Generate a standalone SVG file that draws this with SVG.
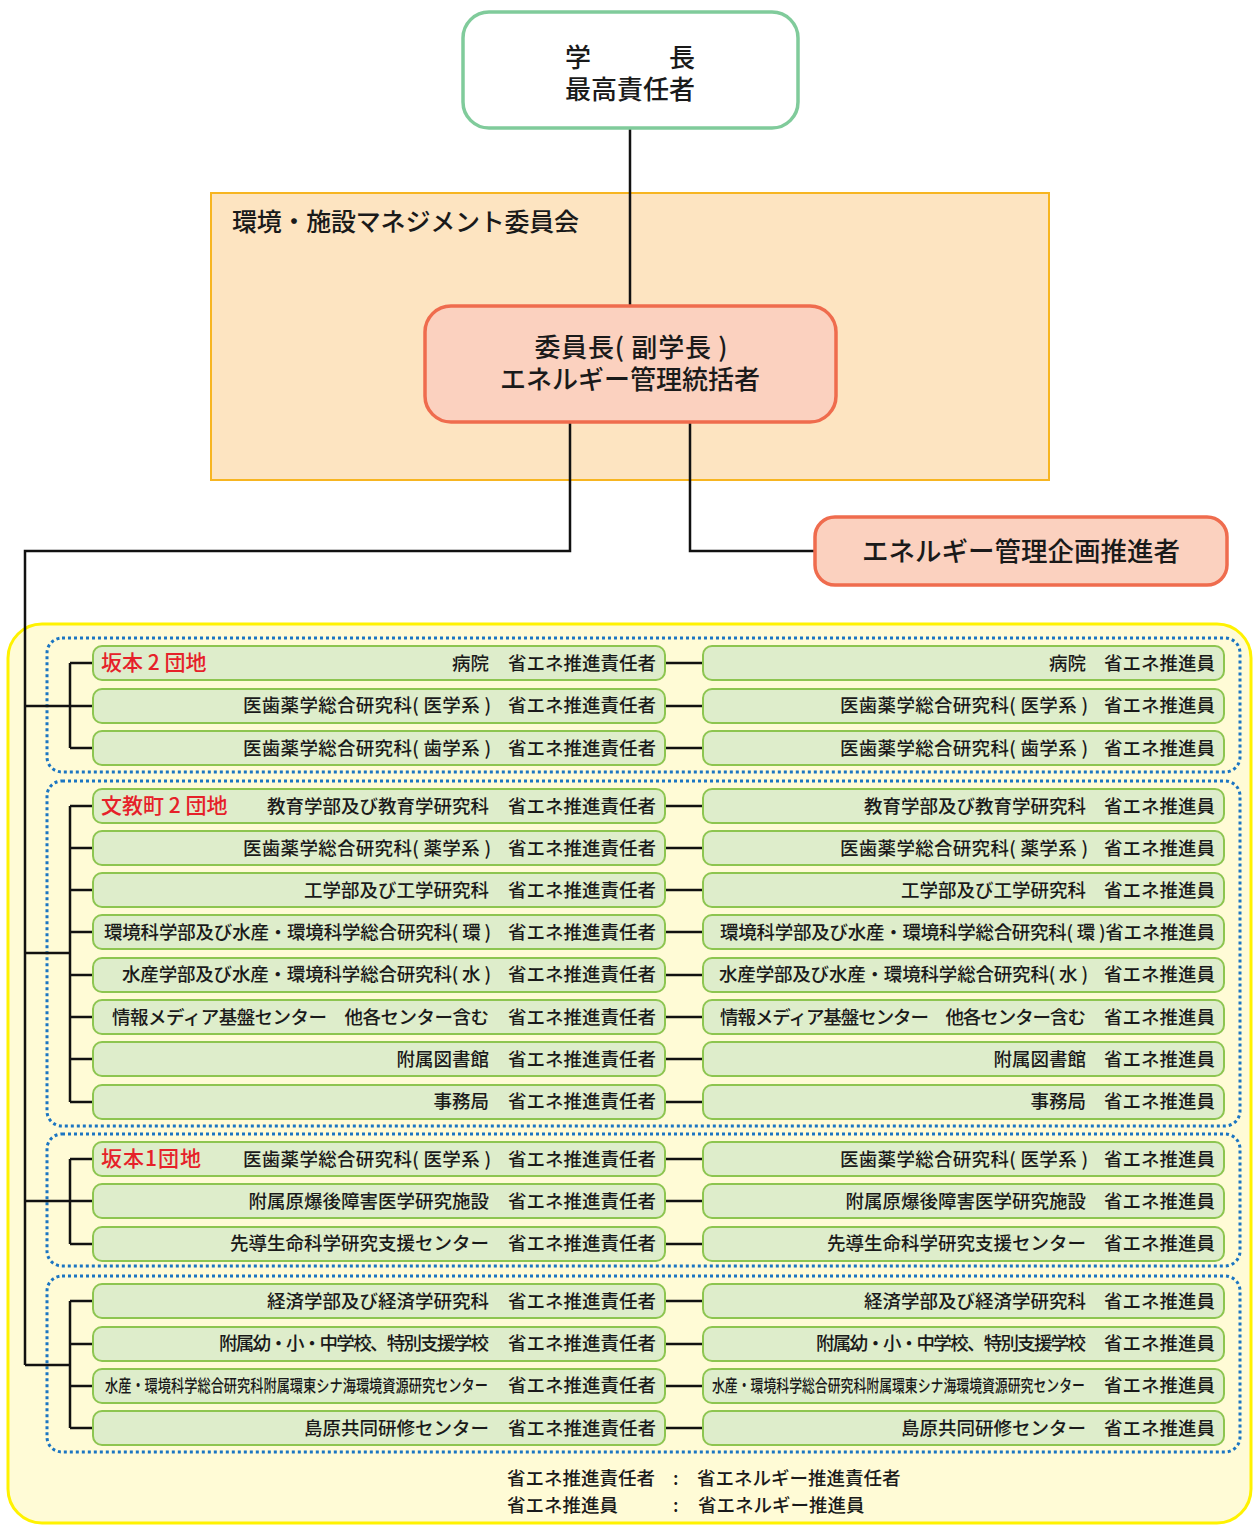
<svg xmlns="http://www.w3.org/2000/svg" width="1253" height="1525" viewBox="0 0 1253 1525">
<style>
text{font-family:"Noto Sans CJK JP","Noto Sans",sans-serif;fill:#1a1a1a;font-weight:500}
.t18{font-size:18.5px}
.t26{font-size:26px}
.red{fill:#e62129;font-size:21px}
.row{fill:#deedcb;stroke:#8dc550;stroke-width:2}
.grp{fill:none;stroke:#1b75c2;stroke-width:3;stroke-dasharray:3 3}
.ln{fill:none;stroke:#111;stroke-width:2.5}
.e{text-anchor:end}
.m{text-anchor:middle}
.c{font-size:17px}
</style>
<rect width="1253" height="1525" fill="#ffffff"/>
<g id="committee">
<rect x="211" y="193" width="838" height="287" fill="#fde4c1" stroke="#f7b521" stroke-width="2"/>
<text x="232" y="231" style="font-size:25px" textLength="347">環境・施設マネジメント委員会</text>
</g>
<g id="area">
<rect x="8" y="624" width="1243" height="899" rx="34" fill="#fffbd6" stroke="#fff200" stroke-width="3"/>
<rect class="grp" x="47" y="638" width="1193" height="134" rx="15"/>
<rect class="grp" x="47" y="781" width="1193" height="345" rx="15"/>
<rect class="grp" x="47" y="1134" width="1193" height="132" rx="15"/>
<rect class="grp" x="47" y="1276" width="1193" height="176" rx="15"/>
</g>
<g id="connectors">
<path class="ln" d="M630 128V306"/>
<path class="ln" d="M570 422V551H25V1365"/>
<path class="ln" d="M690 422V551H815"/>
<path class="ln" d="M25 706H70M70 663V748M70 663H93M70 706H93M70 748H93"/>
<path class="ln" d="M25 953H70M70 806V1102M70 806H93M70 848H93M70 890H93M70 932H93M70 975H93M70 1017H93M70 1059H93M70 1102H93"/>
<path class="ln" d="M25 1201H70M70 1159V1244M70 1159H93M70 1201H93M70 1244H93"/>
<path class="ln" d="M25 1365H70M70 1301V1428M70 1301H93M70 1344H93M70 1386H93M70 1428H93"/>
<path class="ln" d="M665 663H703M665 706H703M665 748H703M665 806H703M665 848H703M665 890H703M665 932H703M665 975H703M665 1017H703M665 1059H703M665 1102H703M665 1159H703M665 1201H703M665 1244H703M665 1301H703M665 1344H703M665 1386H703M665 1428H703"/>
</g>
<g id="president">
<rect x="463" y="12" width="335" height="116" rx="26" fill="#ffffff" stroke="#80cb9b" stroke-width="3.5"/>
<text class="t26 m" x="630" y="67" xml:space="preserve">学　　　長</text>
<text class="t26 m" x="630" y="99">最高責任者</text>
</g>
<g id="chair">
<rect x="425" y="306" width="411" height="116" rx="26" fill="#fbd1bf" stroke="#ef6c4e" stroke-width="3.5"/>
<text class="t26 m" x="631" y="357" textLength="193">委員長( 副学長 )</text>
<text class="t26 m" x="630" y="389">エネルギー管理統括者</text>
</g>
<g id="planner">
<rect x="815" y="517" width="412" height="68" rx="20" fill="#fbd1bf" stroke="#ef6c4e" stroke-width="3.5"/>
<text class="m" x="1021" y="561" style="font-size:26.5px">エネルギー管理企画推進者</text>
</g>
<g id="g1">
<rect class="row" x="93" y="646" width="572" height="34" rx="9"/><text class="red" x="101" y="670" xml:space="preserve">坂本 2 団地</text><text class="t18 e" x="489" y="670">病院</text><text class="t18 e" x="656" y="670">省エネ推進責任者</text>
<rect class="row" x="703" y="646" width="521" height="34" rx="9"/><text class="t18 e" x="1086" y="670">病院</text><text class="t18 e" x="1215" y="670">省エネ推進員</text>
<rect class="row" x="93" y="689" width="572" height="34" rx="9"/><text class="t18 e" x="491" y="712" textLength="248">医歯薬学総合研究科( 医学系 )</text><text class="t18 e" x="656" y="712">省エネ推進責任者</text>
<rect class="row" x="703" y="689" width="521" height="34" rx="9"/><text class="t18 e" x="1088" y="712" textLength="248">医歯薬学総合研究科( 医学系 )</text><text class="t18 e" x="1215" y="712">省エネ推進員</text>
<rect class="row" x="93" y="731" width="572" height="34" rx="9"/><text class="t18 e" x="491" y="755" textLength="248">医歯薬学総合研究科( 歯学系 )</text><text class="t18 e" x="656" y="755">省エネ推進責任者</text>
<rect class="row" x="703" y="731" width="521" height="34" rx="9"/><text class="t18 e" x="1088" y="755" textLength="248">医歯薬学総合研究科( 歯学系 )</text><text class="t18 e" x="1215" y="755">省エネ推進員</text>
</g>
<g id="g2">
<rect class="row" x="93" y="789" width="572" height="34" rx="9"/><text class="red" x="101" y="813" xml:space="preserve">文教町 2 団地</text><text class="t18 e" x="489" y="813">教育学部及び教育学研究科</text><text class="t18 e" x="656" y="813">省エネ推進責任者</text>
<rect class="row" x="703" y="789" width="521" height="34" rx="9"/><text class="t18 e" x="1086" y="813">教育学部及び教育学研究科</text><text class="t18 e" x="1215" y="813">省エネ推進員</text>
<rect class="row" x="93" y="831" width="572" height="34" rx="9"/><text class="t18 e" x="491" y="855" textLength="248">医歯薬学総合研究科( 薬学系 )</text><text class="t18 e" x="656" y="855">省エネ推進責任者</text>
<rect class="row" x="703" y="831" width="521" height="34" rx="9"/><text class="t18 e" x="1088" y="855" textLength="248">医歯薬学総合研究科( 薬学系 )</text><text class="t18 e" x="1215" y="855">省エネ推進員</text>
<rect class="row" x="93" y="873" width="572" height="34" rx="9"/><text class="t18 e" x="489" y="897">工学部及び工学研究科</text><text class="t18 e" x="656" y="897">省エネ推進責任者</text>
<rect class="row" x="703" y="873" width="521" height="34" rx="9"/><text class="t18 e" x="1086" y="897">工学部及び工学研究科</text><text class="t18 e" x="1215" y="897">省エネ推進員</text>
<rect class="row" x="93" y="915" width="572" height="34" rx="9"/><text class="t18 e" x="491" y="939" textLength="387">環境科学部及び水産・環境科学総合研究科( 環 )</text><text class="t18 e" x="656" y="939">省エネ推進責任者</text>
<rect class="row" x="703" y="915" width="521" height="34" rx="9"/><text class="t18 e" x="1215" y="939" textLength="495">環境科学部及び水産・環境科学総合研究科( 環 )省エネ推進員</text>
<rect class="row" x="93" y="958" width="572" height="34" rx="9"/><text class="t18 e" x="491" y="981" textLength="369">水産学部及び水産・環境科学総合研究科( 水 )</text><text class="t18 e" x="656" y="981">省エネ推進責任者</text>
<rect class="row" x="703" y="958" width="521" height="34" rx="9"/><text class="t18 e" x="1088" y="981" textLength="369">水産学部及び水産・環境科学総合研究科( 水 )</text><text class="t18 e" x="1215" y="981">省エネ推進員</text>
<rect class="row" x="93" y="1000" width="572" height="34" rx="9"/><text class="t18 e" x="489" y="1024" textLength="377" xml:space="preserve">情報メディア基盤センター　他各センター含む</text><text class="t18 e" x="656" y="1024">省エネ推進責任者</text>
<rect class="row" x="703" y="1000" width="521" height="34" rx="9"/><text class="t18 e" x="1086" y="1024" textLength="366" xml:space="preserve">情報メディア基盤センター　他各センター含む</text><text class="t18 e" x="1215" y="1024">省エネ推進員</text>
<rect class="row" x="93" y="1042" width="572" height="34" rx="9"/><text class="t18 e" x="489" y="1066">附属図書館</text><text class="t18 e" x="656" y="1066">省エネ推進責任者</text>
<rect class="row" x="703" y="1042" width="521" height="34" rx="9"/><text class="t18 e" x="1086" y="1066">附属図書館</text><text class="t18 e" x="1215" y="1066">省エネ推進員</text>
<rect class="row" x="93" y="1085" width="572" height="34" rx="9"/><text class="t18 e" x="489" y="1108">事務局</text><text class="t18 e" x="656" y="1108">省エネ推進責任者</text>
<rect class="row" x="703" y="1085" width="521" height="34" rx="9"/><text class="t18 e" x="1086" y="1108">事務局</text><text class="t18 e" x="1215" y="1108">省エネ推進員</text>
</g>
<g id="g3">
<rect class="row" x="93" y="1142" width="572" height="34" rx="9"/><text class="red" x="101" y="1166" textLength="100">坂本1団地</text><text class="t18 e" x="491" y="1166" textLength="248">医歯薬学総合研究科( 医学系 )</text><text class="t18 e" x="656" y="1166">省エネ推進責任者</text>
<rect class="row" x="703" y="1142" width="521" height="34" rx="9"/><text class="t18 e" x="1088" y="1166" textLength="248">医歯薬学総合研究科( 医学系 )</text><text class="t18 e" x="1215" y="1166">省エネ推進員</text>
<rect class="row" x="93" y="1184" width="572" height="34" rx="9"/><text class="t18 e" x="489" y="1208">附属原爆後障害医学研究施設</text><text class="t18 e" x="656" y="1208">省エネ推進責任者</text>
<rect class="row" x="703" y="1184" width="521" height="34" rx="9"/><text class="t18 e" x="1086" y="1208">附属原爆後障害医学研究施設</text><text class="t18 e" x="1215" y="1208">省エネ推進員</text>
<rect class="row" x="93" y="1227" width="572" height="34" rx="9"/><text class="t18 e" x="489" y="1250">先導生命科学研究支援センター</text><text class="t18 e" x="656" y="1250">省エネ推進責任者</text>
<rect class="row" x="703" y="1227" width="521" height="34" rx="9"/><text class="t18 e" x="1086" y="1250">先導生命科学研究支援センター</text><text class="t18 e" x="1215" y="1250">省エネ推進員</text>
</g>
<g id="g4">
<rect class="row" x="93" y="1284" width="572" height="34" rx="9"/><text class="t18 e" x="489" y="1308">経済学部及び経済学研究科</text><text class="t18 e" x="656" y="1308">省エネ推進責任者</text>
<rect class="row" x="703" y="1284" width="521" height="34" rx="9"/><text class="t18 e" x="1086" y="1308">経済学部及び経済学研究科</text><text class="t18 e" x="1215" y="1308">省エネ推進員</text>
<rect class="row" x="93" y="1327" width="572" height="34" rx="9"/><text class="t18 e" x="489" y="1350" textLength="270">附属幼・小・中学校、特別支援学校</text><text class="t18 e" x="656" y="1350">省エネ推進責任者</text>
<rect class="row" x="703" y="1327" width="521" height="34" rx="9"/><text class="t18 e" x="1086" y="1350" textLength="270">附属幼・小・中学校、特別支援学校</text><text class="t18 e" x="1215" y="1350">省エネ推進員</text>
<rect class="row" x="93" y="1369" width="572" height="34" rx="9"/><text class="c" transform="translate(105 1392) scale(0.777 1)">水産・環境科学総合研究科附属環東シナ海環境資源研究センター</text><text class="t18 e" x="656" y="1392">省エネ推進責任者</text>
<rect class="row" x="703" y="1369" width="521" height="34" rx="9"/><text class="c" transform="translate(712 1392) scale(0.757 1)">水産・環境科学総合研究科附属環東シナ海環境資源研究センター</text><text class="t18 e" x="1215" y="1392">省エネ推進員</text>
<rect class="row" x="93" y="1411" width="572" height="34" rx="9"/><text class="t18 e" x="489" y="1435">島原共同研修センター</text><text class="t18 e" x="656" y="1435">省エネ推進責任者</text>
<rect class="row" x="703" y="1411" width="521" height="34" rx="9"/><text class="t18 e" x="1086" y="1435">島原共同研修センター</text><text class="t18 e" x="1215" y="1435">省エネ推進員</text>
</g>
<g id="legend">
<text class="t18" x="507" y="1485">省エネ推進責任者</text><text class="t18" x="673" y="1485">:</text><text class="t18" x="697" y="1485">省エネルギー推進責任者</text>
<text class="t18" x="507" y="1512">省エネ推進員</text><text class="t18" x="673" y="1512">:</text><text class="t18" x="698" y="1512">省エネルギー推進員</text>
</g>
</svg>
